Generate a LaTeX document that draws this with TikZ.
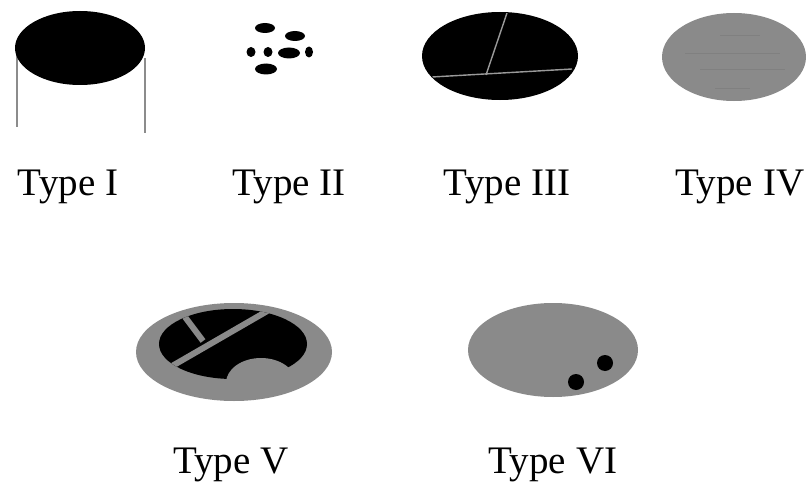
\documentclass[tikz,border=0pt]{standalone}
\usepackage{fontspec}
\setmainfont{Liberation Serif}
\usepackage{tikz}
\usetikzlibrary{positioning}

\definecolor{stonegray}{HTML}{8A8A8A}
\definecolor{crackgray}{HTML}{9A9A9A}

\begin{document}
\begin{tikzpicture}[
      x=1pt,y=-1pt,
      blob/.style={fill=black},
      patch/.style={fill=stonegray},
      crack/.style={draw=crackgray,line width=1.4pt},
      texture/.style={draw=stonegray!93!black,line width=0.8pt},
      stem/.style={draw=black!45,line width=1.3pt},
      typelabel/.style={
         anchor=base,
         inner sep=0pt,
         font=\fontsize{39}{46}\selectfont
      }
    ]
    \useasboundingbox (0,0) rectangle (806,487);

    % Type I
    \draw[stem] (17,48) -- (17,127);
    \draw[stem] (145,58) -- (145,133);
    \fill[blob] (80,48) ellipse [x radius=65,y radius=37];

    % Type II
    \fill[blob] (265,28) ellipse [x radius=10,y radius=5];
    \fill[blob] (295,36) ellipse [x radius=10,y radius=5];
    \fill[blob] (251,52) ellipse [x radius=4.5,y radius=5];
    \fill[blob] (268,52) ellipse [x radius=4.5,y radius=5];
    \fill[blob] (289,53) ellipse [x radius=11,y radius=5.5];
    \fill[blob] (309,52) ellipse [x radius=4,y radius=5.5];
    \fill[blob] (266,69) ellipse [x radius=11,y radius=5.5];

    % Type III
    \fill[blob] (500,56) ellipse [x radius=78,y radius=44];
    \begin{scope}
      \clip (500,56) ellipse [x radius=77,y radius=43];
      \draw[crack] (508,10) -- (486,75);
      \draw[crack] (432,77) -- (572,69);
    \end{scope}

    % Type IV
    \fill[patch] (734,57) ellipse [x radius=72,y radius=44];
    \draw[texture] (720,35) -- (760,35);
    \draw[texture] (685,53) -- (780,53);
    \draw[texture] (700,69) -- (785,69);
    \draw[texture] (715,88) -- (750,88);

    % Type V
    \fill[patch] (234,352) ellipse [x radius=98,y radius=49];
    \begin{scope}
      \clip (233,344) ellipse [x radius=74,y radius=35];
      \fill[blob] (150,300) rectangle (320,390);
      \draw[stonegray,line width=6pt] (160,373) -- (276,306);
      \draw[stonegray,line width=6pt] (185,317) -- (203,341);
    \end{scope}
    \begin{scope}
      \clip (234,352) ellipse [x radius=97,y radius=48];
      \fill[patch] (261,383) ellipse [x radius=35,y radius=25];
    \end{scope}

    % Type VI
    \fill[patch] (553,350) ellipse [x radius=85,y radius=47];
    \fill[blob] (605,363) circle [radius=8];
    \fill[blob] (576,382) circle [radius=8];

    % labels
    \node (t1) [typelabel] at (68,195) {Type I};
    \node (t2) [typelabel] at (289,195) {Type II};
    \node (t3) [typelabel] at (507,195) {Type III};
    \node (t4) [typelabel] at (740,195) {Type IV};
    \node (t5) [typelabel] at (231,473) {Type V};
    \node (t6) [typelabel] at (553,473) {Type VI};
\end{tikzpicture}
\end{document}
